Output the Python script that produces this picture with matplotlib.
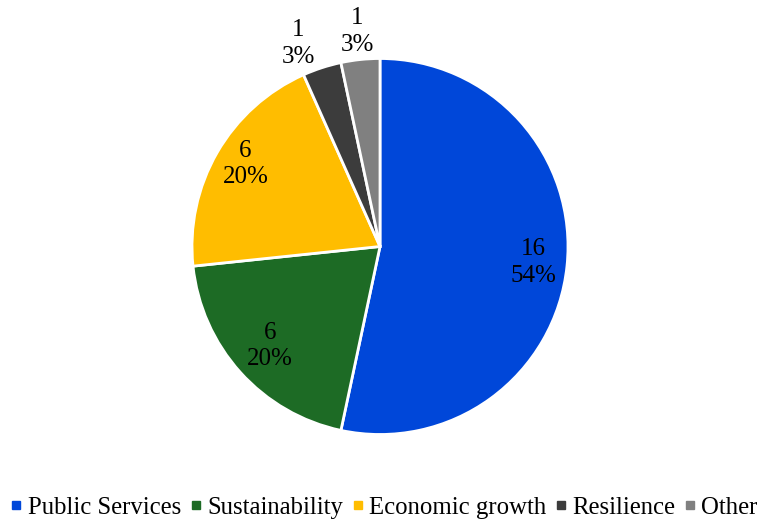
import numpy as np
import matplotlib
matplotlib.use("Agg")
import matplotlib.pyplot as plt
from matplotlib.lines import Line2D

categories = ["Public Services", "Sustainability", "Economic growth", "Resilience", "Other"]
counts = [16, 6, 6, 1, 1]
pct_labels = ["54%", "20%", "20%", "3%", "3%"]
colors = ["#0047D9", "#1D6B25", "#FFBD00", "#3C3C3C", "#808080"]

plt.rcParams["font.family"] = ["Liberation Serif", "DejaVu Serif"]

fig = plt.figure(figsize=(7.61, 5.22), dpi=100)
W, H = 761, 522
cx, cy, r = 380, 246.5, 188
# axes spanning exactly the pie's bounding box in pixels
ax = fig.add_axes([(cx - r) / W, 1 - (cy + r) / H, 2 * r / W, 2 * r / H])

wedges, _ = ax.pie(counts, colors=colors, startangle=90, counterclock=False,
                   radius=1.0,
                   wedgeprops=dict(edgecolor="white", linewidth=2.0))
ax.set_xlim(-1, 1)
ax.set_ylim(-1, 1)
ax.set_aspect("auto")
ax.axis("off")

# label radial distances: inside for large slices, outside for small
dists = [0.82, 0.79, 0.84, 1.165, 1.15]
angle_nudge = [0, 0, -1.5, 4, 0]
for w, n, p, d, dn in zip(wedges, counts, pct_labels, dists, angle_nudge):
    ang = np.deg2rad((w.theta1 + w.theta2) / 2 + dn)
    x, y = d * np.cos(ang), d * np.sin(ang)
    ax.text(x, y, f"{n}\n{p}", ha="center", va="center", fontsize=18,
            color="black", linespacing=1.25, clip_on=False)

handles = [Line2D([0], [0], marker="s", linestyle="none", markersize=6,
                  markerfacecolor=c, markeredgecolor=c) for c in colors]
fig.legend(handles, categories, loc="center", bbox_to_anchor=(385 / W, 1 - 508 / H),
           ncol=5, frameon=False, fontsize=17.8, handlelength=0.35,
           handletextpad=0.3, columnspacing=0.4)

fig.savefig("out.png", dpi=100)
